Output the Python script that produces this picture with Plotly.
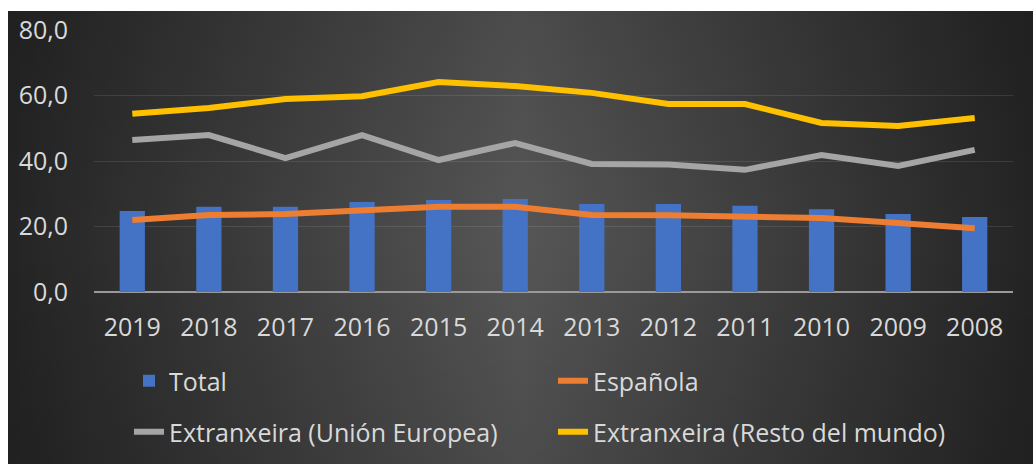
import base64
import plotly.graph_objects as go

years = ["2019", "2018", "2017", "2016", "2015", "2014", "2013", "2012", "2011", "2010", "2009", "2008"]
total = [24.7, 26.0, 26.0, 27.5, 28.1, 28.4, 26.9, 26.9, 26.3, 25.3, 23.8, 22.9]
espanola = [22.0, 23.5, 23.8, 24.7, 26.0, 26.0, 23.5, 23.4, 23.2, 22.6, 21.1, 19.5]
ue = [46.4, 47.9, 40.9, 47.9, 40.3, 45.5, 39.1, 38.9, 37.3, 41.8, 38.5, 43.4]
resto = [54.4, 56.2, 58.9, 59.8, 64.1, 62.9, 60.8, 57.4, 57.4, 51.6, 50.7, 53.1]

W, H = 1033, 464
ML, MR, MT, MB = 94, 20, 30, 172
FONT = "Open Sans"
TXT = "#d9d9d9"

svg = """<svg xmlns="http://www.w3.org/2000/svg" width="1025" height="453" viewBox="0 0 1025 453" preserveAspectRatio="none">
<defs>
<linearGradient id="h" x1="0" x2="1" y1="0" y2="0">
<stop offset="0" stop-color="#242424"/><stop offset="0.5" stop-color="#565656"/><stop offset="1" stop-color="#242424"/>
</linearGradient>
<linearGradient id="v" x1="0" x2="0" y1="0" y2="1">
<stop offset="0" stop-color="#000" stop-opacity="0.12"/><stop offset="0.5" stop-color="#000" stop-opacity="0"/><stop offset="1" stop-color="#000" stop-opacity="0.12"/>
</linearGradient>
</defs>
<rect width="1025" height="453" fill="url(#h)"/>
<rect width="1025" height="453" fill="url(#v)"/>
</svg>"""
src = "data:image/svg+xml;base64," + base64.b64encode(svg.encode()).decode()

pw = W - ML - MR
ph = H - MT - MB
bx0 = (8 - ML) / pw
by0 = (H - MB - 11) / ph
bsx = (W - 8) / pw
bsy = (H - 11) / ph

fig = go.Figure()
fig.add_trace(go.Bar(x=years, y=total, name="Total", marker=dict(color="#4472C4", line=dict(width=0)),
                     width=0.33, legend="legend"))
fig.add_trace(go.Scatter(x=years, y=espanola, name="Española", mode="lines",
                         line=dict(color="#ED7D31", width=6), legend="legend2"))
fig.add_trace(go.Scatter(x=years, y=ue, name="Extranxeira (Unión Europea)", mode="lines",
                         line=dict(color="#A5A5A5", width=6), legend="legend3"))
fig.add_trace(go.Scatter(x=years, y=resto, name="Extranxeira (Resto del mundo)", mode="lines",
                         line=dict(color="#FFC000", width=6), legend="legend4"))

leg_common = dict(orientation="h", xref="container", yref="container", xanchor="left",
                  yanchor="middle", bgcolor="rgba(0,0,0,0)", font=dict(family=FONT, size=25, color=TXT))
c1, c2 = 129 / W, 553 / W
r1, r2 = 1 - 381 / H, 1 - 432 / H

fig.update_layout(
    width=W, height=H,
    margin=dict(l=ML, r=MR, t=MT, b=MB, autoexpand=False),
    paper_bgcolor="white", plot_bgcolor="rgba(0,0,0,0)",
    separators=",.",
    font=dict(family=FONT, size=25, color=TXT),
    showlegend=True,
    legend=dict(**leg_common, x=c1, y=r1),
    legend2=dict(**leg_common, x=c2, y=r1),
    legend3=dict(**leg_common, x=c1, y=r2),
    legend4=dict(**leg_common, x=c2, y=r2),
    images=[dict(source=src, xref="paper", yref="paper", x=bx0, y=by0, sizex=bsx, sizey=bsy,
                 xanchor="left", yanchor="top", sizing="stretch", layer="below")],
    xaxis=dict(type="category", showgrid=False, ticks="", ticklabelstandoff=18,
               tickfont=dict(family=FONT, size=25, color=TXT), showline=False, zeroline=False),
    yaxis=dict(range=[0, 80], dtick=20, tickformat=".1f", showgrid=True,
               gridcolor="rgba(255,255,255,0.1)", gridwidth=1, zeroline=True,
               zerolinecolor="#9a9a9a", zerolinewidth=2, ticklabelstandoff=25,
               tickfont=dict(family=FONT, size=25, color=TXT), showline=False),
)

fig.write_html("out.html")
